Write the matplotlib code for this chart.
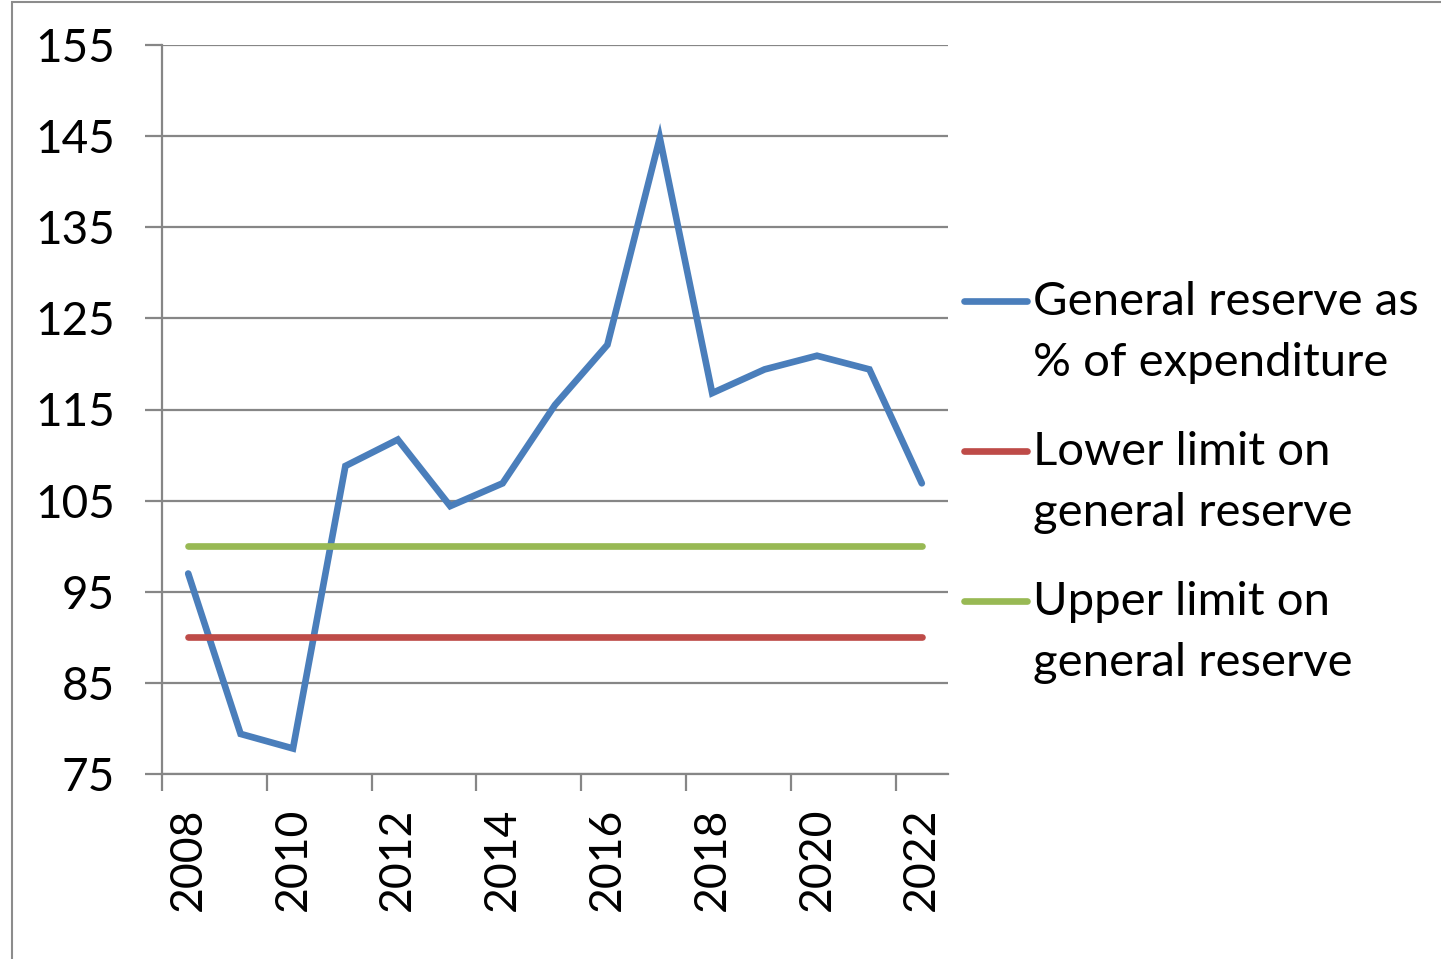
import matplotlib
matplotlib.use("Agg")
import matplotlib.pyplot as plt
from matplotlib.lines import Line2D
from matplotlib.patches import Rectangle
import numpy as np

years = list(range(2008, 2023))
reserve_pct = [97.0, 79.4, 77.8, 108.8, 111.7, 104.4, 106.9, 115.5, 122.1, 144.8,
               116.8, 119.4, 120.9, 119.4, 106.9]
lower_limit = [90] * len(years)
upper_limit = [100] * len(years)
series_labels = ["General reserve as\n% of expenditure",
                 "Lower limit on\ngeneral reserve",
                 "Upper limit on\ngeneral reserve"]
series_colors = ["#4a7ebb", "#be4b48", "#98b954"]
y_ticks = list(range(75, 156, 10))

plt.rcParams['font.family'] = ['Lato', 'DejaVu Sans']
GRID = "#868686"

fig = plt.figure(figsize=(14.41, 9.59), dpi=100)
ax = fig.add_axes([162 / 1441, 1 - 774 / 959, (948 - 162) / 1441, (774 - 45) / 959])

x = np.arange(len(years))
for vals, col in zip([reserve_pct, lower_limit, upper_limit], series_colors):
    ax.plot(x, vals, color=col, lw=4.8, solid_capstyle='round', solid_joinstyle='miter')

ax.set_xlim(-0.5, len(years) - 0.5)
ax.set_ylim(75, 155)
ax.set_yticks(y_ticks)
ax.set_yticklabels([str(t) for t in y_ticks], fontsize=33)
ax.grid(axis='y', color=GRID, lw=1.6)
ax.set_axisbelow(True)

# tick marks between categories, labels on every other category
ax.set_xticks(np.arange(-0.5, len(years), 2))
ax.set_xticklabels([])
ax.set_xticks(x[::2], minor=True)
ax.set_xticklabels([str(y) for y in years[::2]], minor=True, rotation=90, fontsize=32)
ax.tick_params(axis='x', which='minor', length=0, pad=24)
ax.tick_params(axis='x', which='major', length=12, width=1.6, color=GRID, direction='out')
ax.tick_params(axis='y', length=12, width=1.6, color=GRID, pad=22)

for s in ['top', 'right']:
    ax.spines[s].set_visible(False)
for s in ['left', 'bottom']:
    ax.spines[s].set_color(GRID)
    ax.spines[s].set_linewidth(1.6)

# legend, Excel style: line aligned with the first text line
leg_y = [301, 451, 601]
for lab, col, yy in zip(series_labels, series_colors, leg_y):
    fy = 1 - yy / 959
    fig.add_artist(Line2D([964 / 1441, 1027 / 1441], [fy, fy], color=col, lw=4.8,
                          solid_capstyle='round'))
    fig.text(1033 / 1441, 1 - (yy - 20) / 959, lab, fontsize=34, va='top', ha='left',
             linespacing=1.57, transform=fig.transFigure)

# chart frame
fig.add_artist(Rectangle((12 / 1441, -0.01), 1.1, 1 - 2 / 959 + 0.01, fill=False,
                         edgecolor="#8c8c8c", lw=1.5, transform=fig.transFigure))

fig.savefig("out.png", dpi=100)
